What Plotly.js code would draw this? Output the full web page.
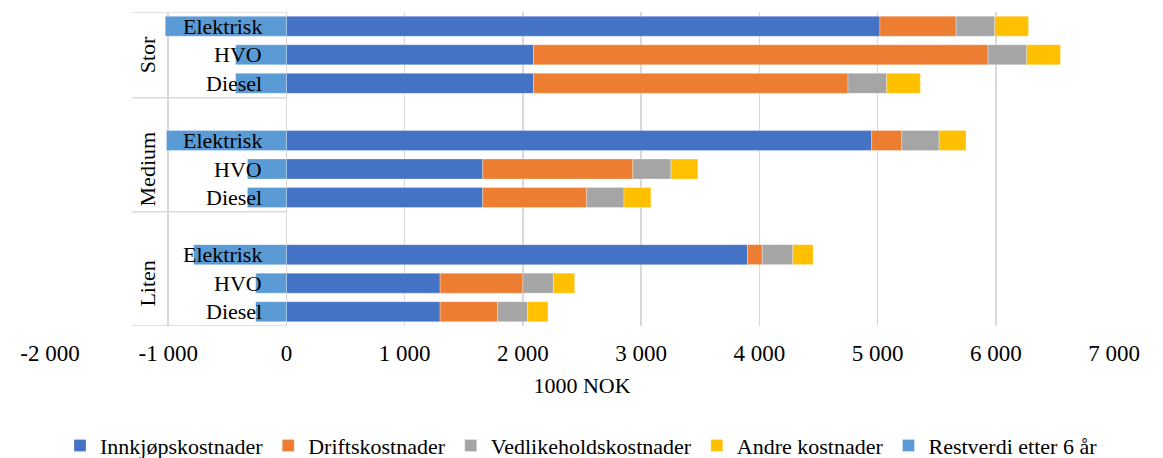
<!DOCTYPE html>
<html>
<head>
<meta charset="utf-8">
<script src="https://cdn.plot.ly/plotly-3.0.1.min.js"></script>
<style>
  html, body { margin: 0; padding: 0; background: #fff; }
  #chart { width: 1163px; height: 458px; }
</style>
</head>
<body>
<div id="chart"></div>
<script>
// ---- Data (1000 NOK) ----
const groups = ["Stor", "Medium", "Liten"];
const vehicles = ["Elektrisk", "HVO", "Diesel"];
// order: Stor(Elektrisk, HVO, Diesel), Medium(...), Liten(...)
const innkjopskostnader   = [5020, 2090, 2090, 4950, 1660, 1660, 3900, 1300, 1300];
const driftskostnader     = [645, 3845, 2660, 255, 1270, 880, 125, 700, 485];
const vedlikeholdskostnader = [327, 327, 327, 315, 322, 315, 258, 258, 255];
const andreKostnader      = [285, 285, 285, 228, 228, 228, 172, 180, 172];
const restverdi           = [-1025, -430, -430, -1015, -330, -330, -785, -260, -260];

const seriesNames = ["Innkjøpskostnader", "Driftskostnader", "Vedlikeholdskostnader", "Andre kostnader", "Restverdi etter 6 år"];
const seriesColors = ["#4472C4", "#ED7D31", "#A5A5A5", "#FFC000", "#5B9BD5"];
const tickValues = [-2000, -1000, 0, 1000, 2000, 3000, 4000, 5000, 6000, 7000];
const tickLabels = ["-2 000", "-1 000", "0", "1 000", "2 000", "3 000", "4 000", "5 000", "6 000", "7 000"];

// row positions: each group of 3 followed by one blank row
const rowPos = innkjopskostnader.map((_, i) => Math.floor(i / 3) * 4 + (i % 3));

const FONT = "'Liberation Serif', 'Times New Roman', serif";
const allSeries = [innkjopskostnader, driftskostnader, vedlikeholdskostnader, andreKostnader, restverdi];

const traces = allSeries.map((vals, k) => ({
  type: "bar",
  orientation: "h",
  name: seriesNames[k],
  x: vals,
  y: rowPos,
  marker: { color: seriesColors[k], line: { color: "rgba(255,255,255,0.5)", width: 0.6 } },
  hoverinfo: "skip"
}));

const annotations = [];
rowPos.forEach((p, i) => {
  annotations.push({
    xref: "x", yref: "y", x: 0, y: p,
    text: vehicles[i % 3], showarrow: false,
    xanchor: "right", yanchor: "middle", xshift: -22,
    font: { family: FONT, size: 22, color: "#000" }
  });
});
groups.forEach((g, gi) => {
  annotations.push({
    xref: "x", yref: "y", x: 0, y: gi * 4 + 1,
    text: g, showarrow: false, textangle: -90,
    xanchor: "center", yanchor: "middle", xshift: -139,
    font: { family: FONT, size: 22, color: "#000" }
  });
});

// category-axis separator lines
const sepY = [-0.5, 2.5, 6.5, 10.5];
const shapes = sepY.map(yv => ({
  type: "line", xref: "x", yref: "y",
  x0: -1305, x1: 0, y0: yv, y1: yv,
  line: { color: "#d9d9d9", width: 1.5 }, layer: "below"
}));

const layout = {
  width: 1163, height: 458,
  margin: { l: 50, r: 49, t: 12, b: 132 },
  paper_bgcolor: "#fff", plot_bgcolor: "#fff",
  barmode: "relative",
  bargap: 0.3,
  font: { family: FONT, size: 22, color: "#000" },
  showlegend: true,
  legend: {
    orientation: "h", xref: "container", x: 0.5, xanchor: "center",
    yref: "container", y: 0.027, yanchor: "middle",
    font: { family: FONT, size: 22, color: "#000" },
    traceorder: "normal"
  },
  xaxis: {
    range: [-2000, 7000],
    tickmode: "array", tickvals: tickValues, ticktext: tickLabels,
    showgrid: true, gridcolor: "#d9d9d9", gridwidth: 1.5,
    zeroline: true, zerolinecolor: "#d9d9d9", zerolinewidth: 1.5,
    showline: false, ticks: "",
    ticklabelstandoff: 11,
    tickfont: { family: FONT, size: 23, color: "#000" },
    title: { text: "1000 NOK", font: { family: FONT, size: 22, color: "#000" }, standoff: 12 },
    fixedrange: true
  },
  yaxis: {
    range: [10.5, -0.5],
    showticklabels: false, showgrid: false, zeroline: false, showline: false, ticks: "",
    fixedrange: true
  },
  annotations: annotations,
  shapes: shapes
};

Plotly.newPlot("chart", traces, layout, { staticPlot: true, displayModeBar: false });
</script>
</body>
</html>
